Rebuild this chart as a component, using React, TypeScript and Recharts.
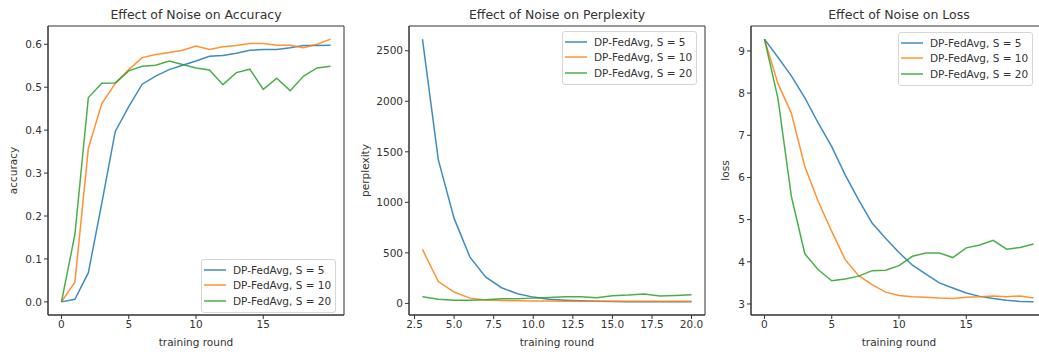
import React from 'react';
import { LineChart, Line, XAxis, YAxis, Legend, ReferenceArea } from 'recharts';

// training rounds
const rounds = [0, 1, 2, 3, 4, 5, 6, 7, 8, 9, 10, 11, 12, 13, 14, 15, 16, 17, 18, 19, 20];
const pplRounds = [3, 4, 5, 6, 7, 8, 9, 10, 11, 12, 13, 14, 15, 16, 17, 18, 19, 20];

// accuracy
const accS5 = [0.0, 0.006, 0.068, 0.23, 0.397, 0.455, 0.507, 0.526, 0.541, 0.551, 0.561, 0.572, 0.574, 0.579, 0.586, 0.588, 0.588, 0.592, 0.597, 0.597, 0.598];
const accS10 = [0.0, 0.046, 0.358, 0.462, 0.509, 0.541, 0.569, 0.576, 0.581, 0.586, 0.596, 0.588, 0.594, 0.597, 0.602, 0.602, 0.598, 0.598, 0.592, 0.6, 0.612];
const accS20 = [0.0, 0.157, 0.476, 0.509, 0.51, 0.538, 0.549, 0.551, 0.561, 0.553, 0.545, 0.54, 0.506, 0.534, 0.542, 0.495, 0.521, 0.492, 0.526, 0.545, 0.549];

// perplexity (starts at round 3)
const pplS5 = [2615, 1422, 841, 458, 260, 155, 95, 62, 42, 32, 25, 20, 18, 17, 16, 16, 15, 15];
const pplS10 = [534, 216, 112, 52, 34, 28, 25, 24, 23, 22, 22, 21, 21, 21, 21, 20, 20, 20];
const pplS20 = [66, 40, 30, 30, 36, 46, 46, 52, 58, 66, 66, 56, 76, 82, 92, 72, 79, 86];

// loss
const lossS5 = [9.28, 8.85, 8.41, 7.89, 7.29, 6.73, 6.06, 5.47, 4.92, 4.56, 4.22, 3.92, 3.71, 3.5, 3.38, 3.26, 3.18, 3.13, 3.09, 3.06, 3.05];
const lossS10 = [9.28, 8.23, 7.52, 6.26, 5.43, 4.72, 4.05, 3.67, 3.46, 3.28, 3.2, 3.17, 3.16, 3.14, 3.13, 3.16, 3.17, 3.19, 3.17, 3.19, 3.14];
const lossS20 = [9.28, 7.88, 5.55, 4.19, 3.81, 3.55, 3.59, 3.66, 3.79, 3.8, 3.91, 4.13, 4.21, 4.21, 4.1, 4.33, 4.4, 4.51, 4.3, 4.34, 4.42];

const seriesNames = ['DP-FedAvg, S = 5', 'DP-FedAvg, S = 10', 'DP-FedAvg, S = 20'];
const colors = ['#1f77b4', '#ff7f0e', '#2ca02c'];

const FONT = '"DejaVu Sans", Verdana, sans-serif';
const TEXT = '#333';
const FS = 10.5;

// matplotlib-style 5% padding
const pad = (lo: number, hi: number): [number, number] => {
  const r = hi - lo;
  return [lo - 0.05 * r, hi + 0.05 * r];
};

const rows = (xs: number[], a: number[], b: number[], c: number[]) =>
  xs.map((x, i) => ({ round: x, s5: a[i], s10: b[i], s20: c[i] }));

const MplLegend = (props: any) => {
  const items = [...(props.payload || [])].sort(
    (a: any, b: any) => seriesNames.indexOf(a.value) - seriesNames.indexOf(b.value)
  );
  return (
    <div
      style={{
        border: '1px solid #d6d6d6',
        borderRadius: 3,
        background: 'rgba(255,255,255,0.85)',
        padding: '2px 4px 3px 2px',
        fontFamily: FONT,
        fontSize: FS,
        color: TEXT,
        whiteSpace: 'nowrap',
      }}
    >
      {items.map((p: any) => (
        <div key={p.value} style={{ display: 'flex', alignItems: 'center', height: 15.5 }}>
          <svg width={22} height={4} style={{ marginRight: 7 }}>
            <line x1={0} y1={2} x2={22} y2={2} stroke={p.color} strokeWidth={1.5} strokeOpacity={0.85} />
          </svg>
          <span>{p.value}</span>
        </div>
      ))}
    </div>
  );
};

const YLabel = (text: string) => (props: any) => {
  const vb = props.viewBox || {};
  const x = vb.x + 13;
  const y = vb.y + vb.height / 2;
  return (
    <text
      x={x}
      y={y}
      transform={`rotate(-90 ${x} ${y})`}
      textAnchor="middle"
      dominantBaseline="central"
      fontFamily={FONT}
      fontSize={FS}
      fill={TEXT}
    >
      {text}
    </text>
  );
};

interface PanelProps {
  left: number;
  yAxisWidth: number;
  data: any[];
  title: string;
  ylabel: string;
  xDomain: [number, number];
  xTicks: number[];
  xFmt: (v: number) => string;
  yDomain: [number, number];
  yTicks: number[];
  yFmt: (v: number) => string;
  legendLeft: number;
  legendTop: number;
}

const PLOT_W = 296;
const TOP = 26;
const XAX_H = 37;

const Panel = (p: PanelProps) => {
  const tickStyle = { fontFamily: FONT, fontSize: FS, fill: TEXT };
  return (
    <div style={{ position: 'absolute', left: p.left, top: 0 }}>
      <LineChart
        width={p.yAxisWidth + PLOT_W + 2}
        height={352}
        data={p.data}
        margin={{ top: TOP, right: 2, bottom: 0, left: 0 }}
      >
        <XAxis
          dataKey="round"
          type="number"
          domain={p.xDomain}
          ticks={p.xTicks}
          tickFormatter={p.xFmt}
          allowDataOverflow
          height={XAX_H}
          tick={tickStyle}
          tickSize={4}
          tickMargin={2}
          stroke="#333"
          label={{ value: 'training round', position: 'insideBottom', offset: 6, style: { fontFamily: FONT, fontSize: FS, fill: TEXT } }}
        />
        <YAxis
          type="number"
          domain={p.yDomain}
          ticks={p.yTicks}
          tickFormatter={p.yFmt}
          allowDataOverflow
          width={p.yAxisWidth}
          tick={tickStyle}
          tickSize={4}
          tickMargin={2}
          stroke="#333"
          label={{ content: YLabel(p.ylabel) }}
        />
        <ReferenceArea
          x1={p.xDomain[0]}
          x2={p.xDomain[1]}
          y1={p.yDomain[0]}
          y2={p.yDomain[1]}
          fill="none"
          stroke="#333"
          strokeWidth={1}
          ifOverflow="visible"
          label={{ value: p.title, position: 'top', offset: 7, style: { fontFamily: FONT, fontSize: 12.5, fill: TEXT } }}
        />
        <Legend
          layout="vertical"
          align="center"
          verticalAlign="middle"
          content={<MplLegend />}
          wrapperStyle={{ left: p.legendLeft, top: p.legendTop, width: 'auto', height: 'auto' }}
        />
        {['s5', 's10', 's20'].map((k, i) => (
          <Line
            key={k}
            type="linear"
            dataKey={k}
            name={seriesNames[i]}
            stroke={colors[i]}
            strokeOpacity={0.85}
            strokeWidth={1.5}
            dot={false}
            isAnimationActive={false}
          />
        ))}
      </LineChart>
    </div>
  );
};

const fmt0 = (v: number) => String(v);
const fmt1 = (v: number) => v.toFixed(1);

export default function App() {
  const accData = rows(rounds, accS5, accS10, accS20);
  const pplData = rows(pplRounds, pplS5, pplS10, pplS20);
  const lossData = rows(rounds, lossS5, lossS10, lossS20);

  const accAll = [...accS5, ...accS10, ...accS20];
  const pplAll = [...pplS5, ...pplS10, ...pplS20];
  const lossAll = [...lossS5, ...lossS10, ...lossS20];

  return (
    <div
      style={{
        position: 'fixed',
        left: 0,
        top: 0,
        width: 1039,
        height: 352,
        overflow: 'hidden',
        background: '#fff',
      }}
    >
      <Panel
        left={0}
        yAxisWidth={48}
        data={accData}
        title="Effect of Noise on Accuracy"
        ylabel="accuracy"
        xDomain={pad(rounds[0], rounds[rounds.length - 1])}
        xTicks={[0, 5, 10, 15]}
        xFmt={fmt0}
        yDomain={pad(Math.min(...accAll), Math.max(...accAll))}
        yTicks={[0, 0.1, 0.2, 0.3, 0.4, 0.5, 0.6]}
        yFmt={fmt1}
        legendLeft={201}
        legendTop={259}
      />
      <Panel
        left={352}
        yAxisWidth={57}
        data={pplData}
        title="Effect of Noise on Perplexity"
        ylabel="perplexity"
        xDomain={pad(pplRounds[0], pplRounds[pplRounds.length - 1])}
        xTicks={[2.5, 5, 7.5, 10, 12.5, 15, 17.5, 20]}
        xFmt={fmt1}
        yDomain={pad(Math.min(...pplAll), Math.max(...pplAll))}
        yTicks={[0, 500, 1000, 1500, 2000, 2500]}
        yFmt={fmt0}
        legendLeft={210}
        legendTop={31}
      />
      <Panel
        left={712}
        yAxisWidth={39}
        data={lossData}
        title="Effect of Noise on Loss"
        ylabel="loss"
        xDomain={pad(rounds[0], rounds[rounds.length - 1])}
        xTicks={[0, 5, 10, 15]}
        xFmt={fmt0}
        yDomain={pad(Math.min(...lossAll), Math.max(...lossAll))}
        yTicks={[3, 4, 5, 6, 7, 8, 9]}
        yFmt={fmt0}
        legendLeft={186}
        legendTop={32}
      />
    </div>
  );
}
